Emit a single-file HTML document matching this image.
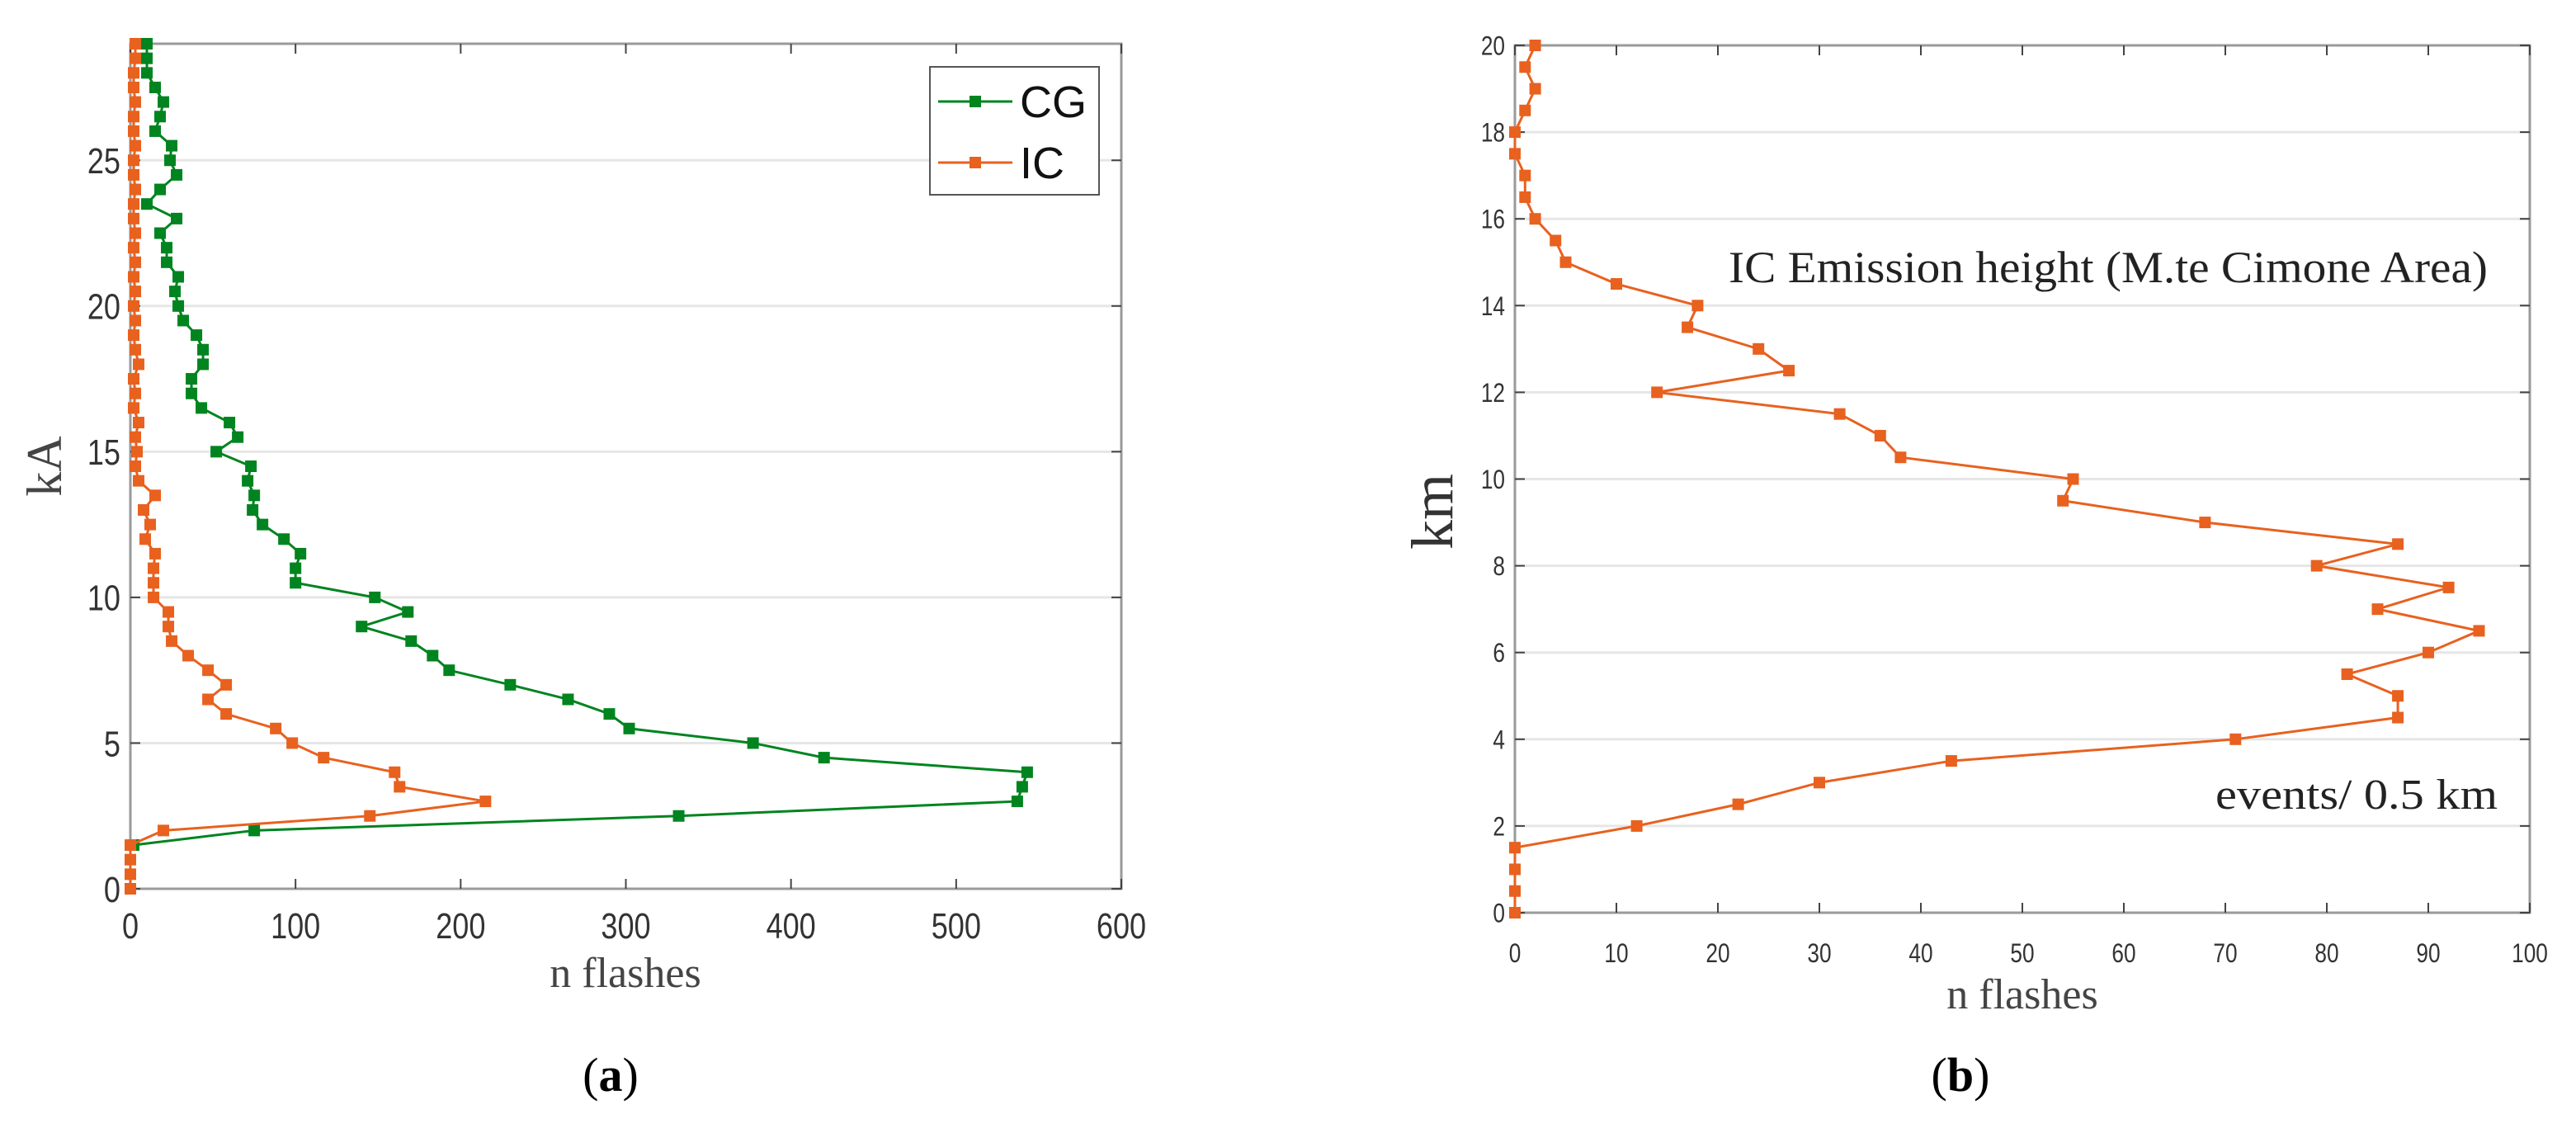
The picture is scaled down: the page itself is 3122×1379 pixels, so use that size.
<!DOCTYPE html>
<html><head><meta charset="utf-8"><style>
html,body{margin:0;padding:0;background:#fff;}
svg text{font-family:"Liberation Sans Narrow","Liberation Sans",sans-serif;}
.serif{font-family:"Liberation Serif",serif !important;}
</style></head><body>
<svg id="fig" width="3122" height="1374" viewBox="0 0 3122 1374" xmlns="http://www.w3.org/2000/svg">
<rect width="3122" height="1374" fill="#fff"/>
<g id="chartA"></g>
<g id="chartB"></g>
</svg>
<script>
// ---- Chart (a) data ----
const aHeights = [];
for (let i = 0; i <= 58; i++) aHeights.push(i * 0.5);
const aIC = [0,0,0,0,20,145,215,163,160,117,98,88,58,47,58,47,35,25,23,23,14,14,14,15,9,12,8,15,5,3,
  4,3,5,2,3,2,5,3,2,3,2,3,2,3,2,3,2,2,3,2,2,3,2,2,3,2,2,3,3];
const aCGHeights = aHeights.slice(3);
const aCG = [2,75,332,537,540,543,420,377,302,290,265,230,193,183,170,140,168,148,100,100,103,93,80,74,75,71,73,52,65,60,
  43,37,37,44,44,40,32,29,27,29,22,22,18,28,10,18,28,24,25,15,18,20,15,10,10,10];
const aXTicks = [0,100,200,300,400,500,600];
const aYTicks = [0,5,10,15,20,25];
// ---- Chart (b) data ----
const bHeights = [];
for (let i = 0; i <= 40; i++) bHeights.push(i * 0.5);
const bIC = [0,0,0,0,12,22,30,43,71,87,87,82,90,95,85,92,79,87,68,54,55,38,36,32,14,27,24,17,18,10,5,4,2,1,1,0,0,1,2,1,2];
const bXTicks = [0,10,20,30,40,50,60,70,80,90,100];
const bYTicks = [0,2,4,6,8,10,12,14,16,18,20];

const NS = "http://www.w3.org/2000/svg";
function mk(parent, tag, attrs, text) {
  const e = document.createElementNS(NS, tag);
  for (const k in attrs) e.setAttribute(k, attrs[k]);
  if (text !== undefined) e.textContent = text;
  parent.appendChild(e);
  return e;
}

function drawAxes(g, box, xs, ys, xTicks, yTicks, fs) {
  const bg = mk(g, "rect", {x: box.l, y: box.t, width: box.r - box.l, height: box.b - box.t, fill: "#fff"});
  
  
  yTicks.forEach(v => {
    if (v === 0) return;
    const gl = mk(g, "line", {x1: box.l, x2: box.r, y1: ys(v), y2: ys(v), stroke: "#e6e6e6", "stroke-width": 3});
    
    
  });
  const frame = mk(g, "rect", {x: box.l, y: box.t, width: box.r - box.l, height: box.b - box.t, fill: "none", stroke: "#9a9a9a", "stroke-width": 3});
  
  
  xTicks.forEach(v => {
    const x = xs(v);
    mk(g, "line", {x1: x, x2: x, y1: box.b, y2: box.b - 12, stroke: "#444", "stroke-width": 2});
    mk(g, "line", {x1: x, x2: x, y1: box.t, y2: box.t + 12, stroke: "#444", "stroke-width": 2});
    const t = mk(g, "text", {x: x, y: box.b + 60, "text-anchor": "middle", "font-size": fs, fill: "#333", transform: "translate(" + x + ",0) scale(0.82,1) translate(" + (-x) + ",0)"}, String(v));
    
    
  });
  yTicks.forEach(v => {
    const y = ys(v);
    mk(g, "line", {x1: box.l, x2: box.l + 12, y1: y, y2: y, stroke: "#444", "stroke-width": 2});
    mk(g, "line", {x1: box.r, x2: box.r - 12, y1: y, y2: y, stroke: "#444", "stroke-width": 2});
    const xx = box.l - 12;
    const t = mk(g, "text", {x: xx, y: y + fs * 0.36, "text-anchor": "end", "font-size": fs, fill: "#333", transform: "translate(" + xx + ",0) scale(0.82,1) translate(" + (-xx) + ",0)"}, String(v));
    
    
  });
}

function drawSeries(g, xsArr, ysArr, xs, ys, color, name) {
  const pts = xsArr.map((v, i) => xs(v) + "," + ys(ysArr[i])).join(" ");
  const pl = mk(g, "polyline", {points: pts, fill: "none", stroke: color, "stroke-width": 3});
  
  
  xsArr.forEach((v, i) => {
    const m = mk(g, "rect", {x: xs(v) - 7, y: ys(ysArr[i]) - 7, width: 14, height: 14, fill: color});
    
    
  });
}

// ---- Chart (a) ----
(function () {
  const g = document.getElementById("chartA");
  const box = {l: 158, r: 1359, t: 53, b: 1077};
  const xs = v => box.l + (v / 600) * (box.r - box.l);
  const ys = v => box.b - (v / 29) * (box.b - box.t);
  drawAxes(g, box, xs, ys, aXTicks, aYTicks, 44);
  drawSeries(g, aCG, aCGHeights, xs, ys, "#00841f", "cg");
  drawSeries(g, aIC, aHeights, xs, ys, "#e8611f", "ic");
  const xt = mk(g, "text", {x: 758, y: 1196, "text-anchor": "middle", "font-size": 52, fill: "#444", class: "serif"}, "n flashes");
  
  
  const yt = mk(g, "text", {x: 0, y: 0, "text-anchor": "middle", "font-size": 60, fill: "#444", class: "serif", transform: "translate(74,565) rotate(-90)"}, "kA");
  
  
  const lg = mk(g, "g", {});
  
  
  mk(lg, "rect", {x: 1127, y: 81, width: 205, height: 155, fill: "#fff", stroke: "#555", "stroke-width": 2});
  const e1 = mk(lg, "g", {});
  
  
  mk(e1, "line", {x1: 1137, x2: 1227, y1: 123, y2: 123, stroke: "#00841f", "stroke-width": 3});
  mk(e1, "rect", {x: 1175, y: 116, width: 14, height: 14, fill: "#00841f"});
  mk(e1, "text", {x: 1236, y: 142, "font-size": 54, fill: "#111"}, "CG");
  const e2 = mk(lg, "g", {});
  
  
  mk(e2, "line", {x1: 1137, x2: 1227, y1: 197, y2: 197, stroke: "#e8611f", "stroke-width": 3});
  mk(e2, "rect", {x: 1175, y: 190, width: 14, height: 14, fill: "#e8611f"});
  mk(e2, "text", {x: 1236, y: 216, "font-size": 54, fill: "#111"}, "IC");
  const cap = mk(g, "text", {x: 740, y: 1322, "text-anchor": "middle", "font-size": 58, fill: "#000", class: "serif"}, "");
  
  
  mk(cap, "tspan", {}, "(");
  mk(cap, "tspan", {"font-weight": "bold"}, "a");
  mk(cap, "tspan", {}, ")");
})();

// ---- Chart (b) ----
(function () {
  const g = document.getElementById("chartB");
  const box = {l: 1836, r: 3066, t: 55, b: 1106};
  const xs = v => box.l + (v / 100) * (box.r - box.l);
  const ys = v => box.b - (v / 20) * (box.b - box.t);
  drawAxes(g, box, xs, ys, bXTicks, bYTicks, 32);
  drawSeries(g, bIC, bHeights, xs, ys, "#e8611f", "ic-height");
  const xt = mk(g, "text", {x: 2451, y: 1222, "text-anchor": "middle", "font-size": 52, fill: "#444", class: "serif"}, "n flashes");
  
  
  const yt = mk(g, "text", {x: 0, y: 0, "text-anchor": "middle", "font-size": 72, fill: "#333", class: "serif", transform: "translate(1760,620) rotate(-90)"}, "km");
  
  
  const an = mk(g, "text", {x: 2095, y: 342, "font-size": 54, fill: "#222", class: "serif", textLength: 920, lengthAdjust: "spacingAndGlyphs"}, "IC Emission height (M.te Cimone Area)");
  
  
  const an2 = mk(g, "text", {x: 2685, y: 980, "font-size": 52, fill: "#222", class: "serif", textLength: 342, lengthAdjust: "spacingAndGlyphs"}, "events/ 0.5 km");
  
  
  const cap = mk(g, "text", {x: 2376, y: 1322, "text-anchor": "middle", "font-size": 58, fill: "#000", class: "serif"}, "");
  
  
  mk(cap, "tspan", {}, "(");
  mk(cap, "tspan", {"font-weight": "bold"}, "b");
  mk(cap, "tspan", {}, ")");
})();
</script>
</body></html>
